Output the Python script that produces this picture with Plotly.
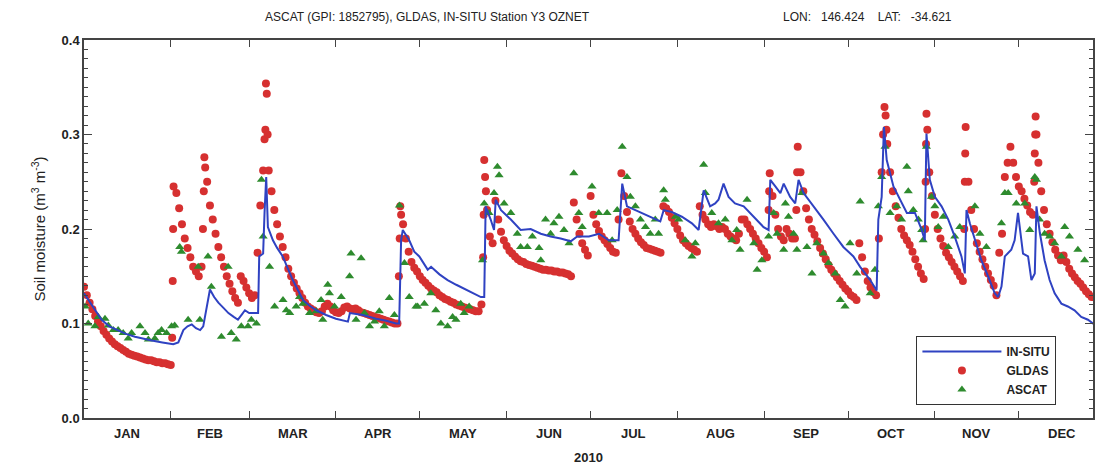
import plotly.graph_objects as go

# ---------------- data (day of year 2010, 0 = 1 Jan) ----------------
month_names = ["JAN", "FEB", "MAR", "APR", "MAY", "JUN", "JUL", "AUG", "SEP", "OCT", "NOV", "DEC"]
month_lengths = [31, 28, 31, 30, 31, 30, 31, 31, 30, 31, 30, 31]

# GLDAS daily values (day 0 .. 360)
gldas_daily = [
    .139, .130, .122, .115, .108, .102, .097, .092, .088, .084, .081, .078, .076, .074, .072, .070,
    .068, .067, .066, .065, .064, .063, .062, .061, .061, .060, .059, .059, .058, .058, .057, .056,
    .245, .238, .222, .205, .190, .180, .170, .160, .155, .150, .160, .276, .250, .225, .210, .195,
    .181, .170, .160, .150, .142, .134, .127, .122, .150, .145, .138, .132, .127, .130, .175, .225,
    .262, .354, .262, .240, .220, .205, .192, .181, .170, .158, .150, .143, .137, .132, .127, .122,
    .118, .116, .114, .112, .111, .113, .118, .121, .118, .114, .112, .111, .113, .117, .118, .116,
    .115, .116, .114, .112, .111, .110, .109, .108, .107, .106, .105, .104, .103, .102, .101, .100,
    .100, .224, .205, .190, .176, .165, .159, .155, .150, .146, .143, .140, .137, .135, .133, .130,
    .128, .126, .125, .123, .122, .120, .119, .118, .117, .116, .115, .114, .113, .113, .120, .273,
    .220, .192, .185, .230, .210, .197, .188, .182, .177, .174, .171, .168, .166, .165, .163, .162,
    .161, .160, .159, .158, .157, .157, .156, .156, .155, .155, .154, .154, .153, .152, .150, .228,
    .210, .195, .185, .178, .172, .235, .215, .205, .198, .192, .188, .184, .180, .176, .175, .210,
    .259, .235, .218, .208, .200, .195, .190, .186, .183, .180, .179, .178, .177, .176, .175, .224,
    .222, .218, .212, .206, .200, .193, .188, .185, .182, .180, .178, .176, .224, .215, .210, .205,
    .202, .205, .203, .200, .202, .200, .195, .192, .190, .188, .195, .210, .210, .205, .200, .195,
    .190, .185, .180, .176, .170, .259, .235, .215, .200, .192, .188, .200, .195, .190, .190, .287,
    .260, .240, .222, .210, .200, .194, .187, .180, .174, .168, .162, .157, .153, .149, .145, .141,
    .137, .134, .130, .128, .125, .185, .170, .155, .145, .138, .133, .130, .190, .260, .329, .290,
    .260, .240, .224, .212, .200, .193, .188, .183, .176, .168, .160, .153, .147, .322, .260, .235,
    .215, .200, .190, .182, .175, .170, .165, .160, .155, .150, .145, .308, .250, .220, .200, .185,
    .176, .168, .160, .153, .146, .140, .130, .175, .195, .255, .270, .287, .270, .255, .245, .240,
    .232, .225, .218, .215, .319, .270, .240, .220, .205, .195, .186, .178, .172, .167, .172, .165,
    .158, .153, .149, .145, .142, .138, .134, .131, .128,
]

# extra GLDAS dots inside the rain spikes (sub-daily time steps)
gldas_extra_day = [31.5, 31.7, 31.85, 42.5, 42.8, 43.3, 64.5, 64.8, 65.3, 65.6,
                   112.5, 112.8, 113.3, 142.6, 142.8, 143.3, 143.6, 244.6, 244.8,
                   254.5, 254.8, 285.5, 286.4, 286.7, 300.5, 300.7, 300.85, 301.3,
                   314.5, 314.7, 314.85, 339.5, 339.7, 339.85, 340.3]
gldas_extra_val = [0.085, 0.145, 0.200, 0.200, 0.240, 0.265, 0.295, 0.305, 0.343, 0.300,
                   0.150, 0.190, 0.215, 0.170, 0.215, 0.255, 0.240, 0.220, 0.240,
                   0.220, 0.260, 0.300, 0.320, 0.305, 0.200, 0.250, 0.290, 0.305,
                   0.200, 0.250, 0.280, 0.250, 0.280, 0.300, 0.300]

insitu_day = [0, 3, 6.3, 9, 12.3, 15, 18.2, 21, 24.2, 28, 31.9, 33.7, 35.5, 37, 38.5, 40, 41.5, 42.6,
              44, 45, 46.5, 48, 50, 51.6, 53.5, 55, 56.5, 57.5, 59, 62.2, 62.6, 64, 64.5, 65.1, 65.7,
              67.5, 69, 71, 73, 74.6, 76.5, 78.2, 80.5, 83, 86.5, 90, 94.3, 95, 99.6, 104.4, 108,
              111.5, 112.6, 113.3, 113.9, 116.2, 118, 119.8, 122.8, 124, 127, 129.9, 133, 135.8, 139,
              141.8, 143, 143.5, 145.3, 146.5, 147.1, 149, 152.5, 156, 159.6, 163.2, 166.7, 170.3,
              173.9, 176.2, 180.4, 184, 187.5, 191, 192.3, 194, 197, 200.6, 204.1, 205.9, 207.1, 210,
              213.6, 217.2, 219.6, 221.4, 223.7, 225.5, 226.7, 228.5, 230.3, 232.6, 235.7, 239.3,
              242.8, 244.6, 245.2, 247, 248.8, 250, 252.3, 254.1, 255.3, 257.1, 260.7, 264.2, 267.8,
              271.3, 274.9, 277.3, 280.9, 283.2, 283.8, 285, 285.8, 286.8, 289.2, 291.5, 294, 296.9,
              299.3, 300.4, 301, 302.2, 304, 306.4, 308.8, 311.1, 313.5, 314.7, 315.3, 316.5, 318.3,
              320.6, 323, 325.4, 326.6, 327.8, 329, 331.3, 332.5, 333.7, 335.5, 337.3, 338.5, 339.7,
              340.3, 341.5, 343.2, 345, 346.8, 349.2, 351.5, 353.9, 356.3, 358.7, 361]
insitu_val = [.132, .118, .104, .097, .093, .089, .086, .084, .082, .080, .078, .080, .093, .097, .099,
              .095, .093, .097, .120, .136, .128, .122, .116, .111, .107, .104, .110, .114, .111, .111,
              .171, .174, .217, .255, .202, .188, .180, .171, .157, .146, .135, .125, .119, .114, .109,
              .105, .102, .111, .109, .105, .103, .100, .100, .188, .199, .188, .176, .171, .157, .160,
              .152, .146, .141, .137, .132, .128, .128, .224, .210, .199, .231, .220, .210, .199, .200,
              .195, .192, .190, .187, .192, .192, .195, .188, .188, .248, .224, .220, .215, .211, .208,
              .220, .218, .213, .206, .199, .241, .224, .227, .231, .248, .234, .227, .224, .213, .202,
              .199, .252, .245, .238, .248, .234, .227, .252, .238, .224, .210, .195, .181, .171, .160,
              .146, .135, .210, .234, .308, .273, .245, .231, .217, .217, .199, .188, .301, .252, .234,
              .224, .210, .192, .171, .153, .220, .206, .188, .167, .150, .132, .128, .139, .171, .178,
              .188, .217, .174, .171, .146, .153, .224, .196, .167, .146, .132, .121, .118, .114, .107,
              .104, .099]

ascat_day = [0.4, 1.5, 3.9, 5.1, 7.5, 8.7, 10.5, 12.2, 14, 15.8, 17, 20, 21.8, 23, 25.3, 26.5, 27.7,
             29.5, 31.3, 32.4, 34.2, 34.8, 37.2, 40.8, 41.4, 44.3, 45.5, 49.1, 51.5, 52.6, 54.4, 56.2,
             58.6, 59.8, 61.6, 63.4, 64, 66.3, 68.1, 71.1, 72.3, 73.5, 75.8, 77, 78.2, 80.6, 83, 84.7,
             85.3, 87.1, 87.7, 89.5, 91.9, 94.9, 95.4, 97.2, 99, 100.2, 102, 103.8, 105.5, 107.3,
             109.1, 110.9, 112.7, 114.5, 116.2, 118.6, 119.2, 121.6, 123.9, 125.7, 127.5, 129.9,
             131.7, 132.9, 134.6, 135.8, 137.6, 142.4, 143, 144.7, 146.5, 147.7, 148.3, 150.1, 152.5,
             154.8, 156, 158.4, 160.2, 162.6, 163.2, 164.9, 166.7, 167.9, 169.7, 171.5, 173.3, 175,
             176.8, 178, 181.5, 183.9, 186.9, 188.7, 190.5, 192.3, 194, 195.2, 197, 198.8, 200.6,
             202.3, 204.1, 205.3, 207.1, 207.7, 211.3, 212.5, 214.8, 217.2, 218.4, 221.4, 222, 224.3,
             226.7, 229.1, 231.5, 233.2, 234.4, 236.9, 239.3, 240.5, 242.2, 244.6, 246.4, 247.6, 250,
             250.6, 251.7, 253.5, 254.7, 256.5, 258.3, 260.1, 261.8, 264.2, 266, 268.4, 270.2, 271.9,
             273.7, 276.1, 277.3, 280.9, 282.6, 283.8, 285, 286.2, 288, 290.4, 292.1, 294, 294.5,
             296.3, 298.1, 299.3, 299.8, 301, 302.8, 304, 305.2, 307, 308.8, 311.1, 312.9, 318.3,
             320.1, 322.4, 327.8, 329, 330.2, 333.1, 336.1, 337.9, 339.7, 340.3, 341.4, 343.2, 345,
             346.8, 349.2, 350.4, 352.1, 355.1, 357.5]
ascat_val = [.118, .100, .097, .107, .105, .098, .093, .093, .090, .084, .090, .097, .090, .083, .084,
             .090, .093, .090, .097, .098, .181, .176, .104, .160, .104, .171, .139, .086, .160, .090,
             .083, .097, .097, .104, .100, .252, .192, .160, .118, .125, .114, .111, .118, .128, .121,
             .111, .113, .125, .104, .141, .132, .118, .128, .150, .174, .104, .169, .111, .097, .102,
             .113, .097, .127, .109, .225, .164, .128, .118, .118, .121, .132, .114, .100, .097, .107,
             .104, .121, .111, .118, .167, .227, .217, .238, .266, .257, .227, .217, .195, .181, .181,
             .192, .180, .167, .210, .195, .206, .213, .199, .185, .259, .217, .202, .245, .217, .217,
             .188, .220, .287, .255, .234, .224, .210, .202, .195, .210, .195, .241, .231, .213, .210,
             .188, .171, .185, .268, .238, .217, .206, .210, .188, .199, .178, .231, .185, .157, .167,
             .192, .217, .195, .178, .227, .213, .195, .178, .238, .181, .153, .185, .174, .164, .153,
             .125, .118, .185, .153, .229, .132, .157, .224, .255, .287, .217, .224, .210, .266, .240,
             .220, .210, .199, .188, .287, .234, .224, .202, .213, .181, .192, .202, .224, .195, .181,
             .206, .238, .238, .227, .227, .199, .255, .252, .210, .195, .192, .185, .171, .202, .192,
             .178, .167]

# ---------------- derived positions ----------------
month_start = [sum(month_lengths[:i]) for i in range(12)]
month_mid = [s + n / 2 for s, n in zip(month_start, month_lengths)]
gldas_day = list(range(len(gldas_daily))) + gldas_extra_day
gldas_val = gldas_daily + gldas_extra_val

RED = "#d63030"
GREEN = "#2e8b2e"
BLUE = "#2f42c2"
FONT = "Liberation Sans, Arial, sans-serif"

fig = go.Figure()
fig.add_trace(go.Scatter(x=gldas_day, y=gldas_val, mode="markers", name="GLDAS",
                         marker=dict(symbol="circle", size=8, color=RED), legendrank=2))
fig.add_trace(go.Scatter(x=ascat_day, y=ascat_val, mode="markers", name="ASCAT",
                         marker=dict(symbol="triangle-up", size=8, color=GREEN), legendrank=3))
fig.add_trace(go.Scatter(x=insitu_day, y=insitu_val, mode="lines", name="IN-SITU",
                         line=dict(color=BLUE, width=2), legendrank=1))

for m, name in zip(month_mid, month_names):
    fig.add_annotation(x=m, y=0, xref="x", yref="paper", xanchor="center", yanchor="top",
                       yshift=-6, text=name, showarrow=False,
                       font=dict(family=FONT, size=13, color="#222", weight="bold"))

fig.add_annotation(x=0.34, y=1, xref="paper", yref="paper", xanchor="center", yanchor="bottom",
                   yshift=14, text="ASCAT (GPI: 1852795), GLDAS, IN-SITU Station Y3 OZNET",
                   showarrow=False, font=dict(family=FONT, size=12, color="#222"))
fig.add_annotation(x=0.777, y=1, xref="paper", yref="paper", xanchor="center", yanchor="bottom",
                   yshift=14,
                   text="LON:&nbsp;&nbsp;&nbsp;146.424&nbsp;&nbsp;&nbsp;&nbsp;LAT:&nbsp;&nbsp;&nbsp;-34.621",
                   showarrow=False, font=dict(family=FONT, size=12, color="#222"))

fig.update_layout(
    width=1099, height=468,
    margin=dict(l=84, r=4, t=40, b=50),
    paper_bgcolor="white", plot_bgcolor="white",
    font=dict(family=FONT, size=13, color="#222"),
    showlegend=True,
    legend=dict(x=0.825, y=0.217, xanchor="left", yanchor="top",
                bordercolor="#333", borderwidth=1, bgcolor="white",
                font=dict(family=FONT, size=12, color="#222", weight="bold"),
                itemwidth=79, tracegroupgap=0, entrywidth=160),
)
fig.update_xaxes(range=[0, 360.5], tickvals=month_start[1:], showticklabels=False,
                 ticks="inside", ticklen=7, tickcolor="#444", mirror="ticks",
                 showline=True, linecolor="#444", linewidth=1.5, showgrid=False, zeroline=False,
                 title=dict(text="<b>2010</b>", standoff=34,
                            font=dict(family=FONT, size=13, color="#222")))
fig.update_yaxes(range=[0, 0.4], dtick=0.1, tickformat=".1f", ticks="inside", ticklen=8,
                 tickcolor="#444", mirror="ticks", showline=True, linecolor="#444", linewidth=1.5,
                 showgrid=False, zeroline=False,
                 minor=dict(dtick=0.01, ticks="inside", ticklen=4, tickcolor="#444"),
                 tickfont=dict(family=FONT, size=13, color="#222", weight="bold"),
                 title=dict(text="Soil moisture (m<sup>3</sup> m<sup>-3</sup>)", standoff=12,
                            font=dict(family=FONT, size=15, color="#222")))

fig.write_html("out.html", config={"displayModeBar": False},
               post_script="document.body.style.margin='0';")
